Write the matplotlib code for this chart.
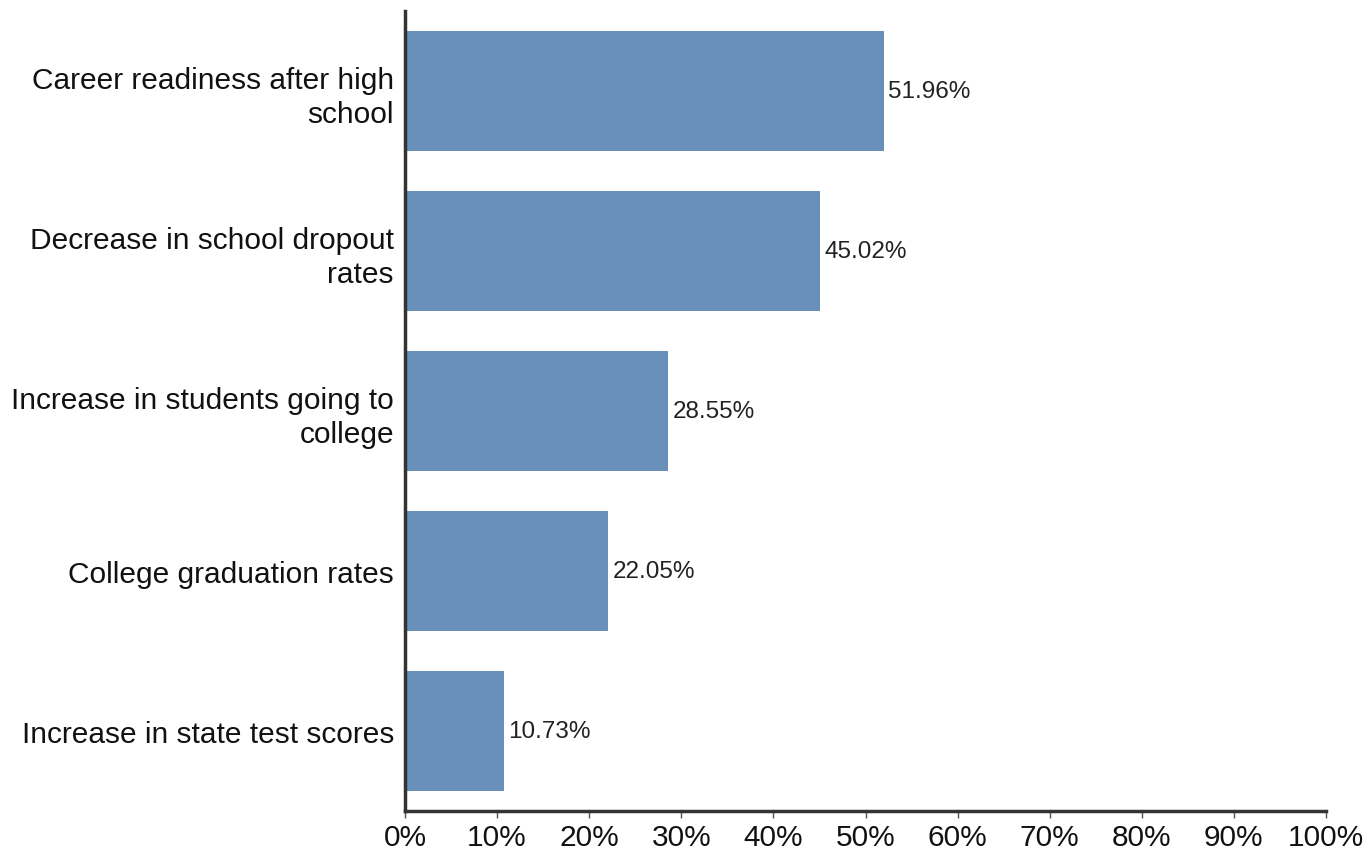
import matplotlib
matplotlib.use("Agg")
import matplotlib.pyplot as plt
from matplotlib.ticker import FuncFormatter

plt.rcParams['font.family'] = ['Liberation Sans', 'DejaVu Sans']

categories = [
    "Career readiness after high\nschool",
    "Decrease in school dropout\nrates",
    "Increase in students going to\ncollege",
    "College graduation rates",
    "Increase in state test scores",
]
values = [51.96, 45.02, 28.55, 22.05, 10.73]
value_labels = ["51.96%", "45.02%", "28.55%", "22.05%", "10.73%"]
xticks = [0, 10, 20, 30, 40, 50, 60, 70, 80, 90, 100]

fig = plt.figure(figsize=(13.69, 8.53), dpi=100)
ax = fig.add_axes([405/1369, 1-812/853, (1326-405)/1369, 800/853])

y = list(range(len(categories)))
ax.barh(y, values, height=0.75, color="#6890bb")
ax.set_ylim(len(categories) - 0.5, -0.5)
ax.set_xlim(0, 100)
ax.set_yticks(y)
ax.set_yticklabels(categories, fontsize=21.5, linespacing=1.27, ha='right', color="#111111")
ax.tick_params(axis='y', length=0, pad=8)
ax.set_xticks(xticks)
ax.xaxis.set_major_formatter(FuncFormatter(lambda v, p: f"{v:.0f}%"))
ax.tick_params(axis='x', labelsize=21.5, length=5, width=1, color="#555555", pad=4,
               direction='out', labelcolor="#111111")

for v, lab, yy in zip(values, value_labels, y):
    ax.text(v + 0.5, yy, lab, va='center', ha='left', fontsize=17.5, color="#222222")

for s in ['top', 'right']:
    ax.spines[s].set_visible(False)
for s in ['left', 'bottom']:
    ax.spines[s].set_linewidth(2.5)
    ax.spines[s].set_color("#333333")

fig.savefig("out.png", dpi=100)
